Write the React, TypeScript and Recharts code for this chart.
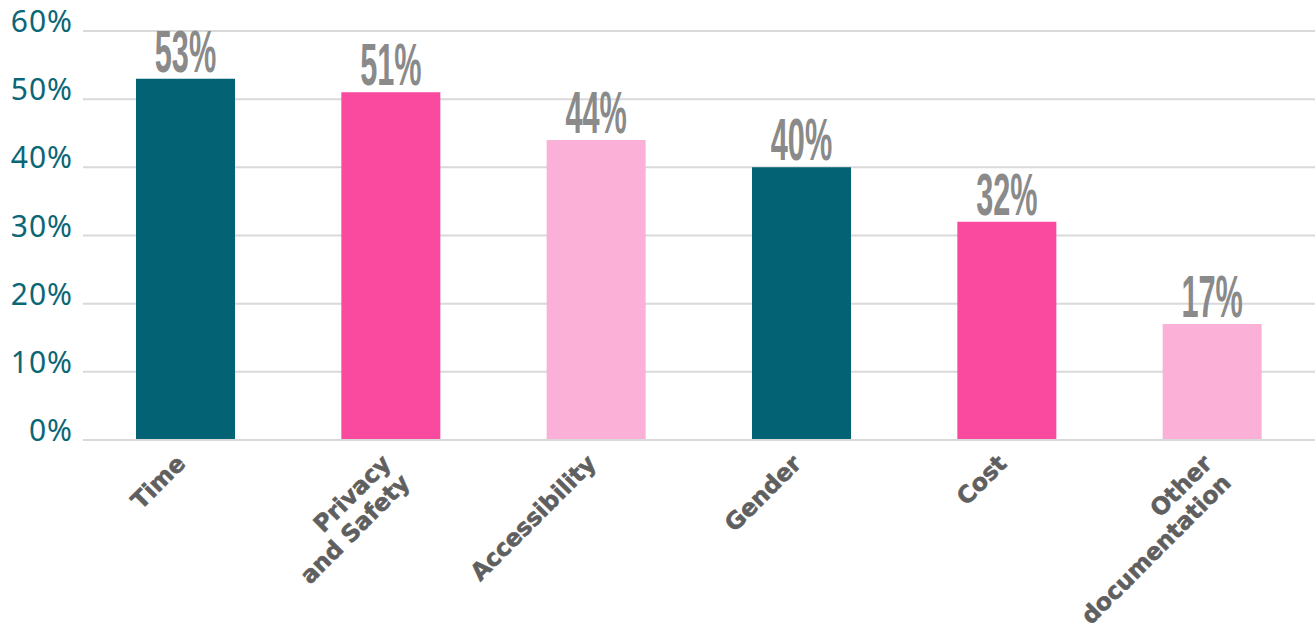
import { BarChart, Bar, XAxis, YAxis, CartesianGrid, Cell, LabelList } from "recharts";

const categories = ["Time", "Privacy\nand Safety", "Accessibility", "Gender", "Cost", "Other\ndocumentation"];
const shares = [53, 51, 44, 40, 32, 17];
const yTicks = [0, 10, 20, 30, 40, 50, 60];

const TEAL = "#036273";
const PINK = "#f94a9f";
const LIGHT_PINK = "#fbb1d7";
const barColors = [TEAL, PINK, LIGHT_PINK, TEAL, PINK, LIGHT_PINK];

const data = categories.map((name, i) => ({ name, value: shares[i] }));

function CategoryTick({ x, y, payload }: any) {
  const lines = String(payload.value).split("\n");
  return (
    <g transform={`translate(${x + 1},${y + 25})`}>
      <text
        transform="rotate(-45)"
        textAnchor="end"
        fill="#5f5f5f"
        fontFamily="'DejaVu Sans', sans-serif"
        fontWeight="bold"
        fontSize={23.5}
        stroke="#5f5f5f"
        strokeWidth={0.6}
      >
        {lines.map((line, i) => (
          <tspan key={i} x={0} dy={i === 0 ? 0 : 27}>
            {line}
          </tspan>
        ))}
      </text>
    </g>
  );
}

function ValueLabel({ x, y, width, value }: any) {
  const cx = Number(x) + Number(width) / 2;
  return (
    <text
      transform={`translate(${cx},${Number(y) - 7}) scale(0.52,1)`}
      textAnchor="middle"
      fill="#8a8a8a"
      fontFamily="'Liberation Sans Narrow', 'Liberation Sans', sans-serif"
      fontWeight="bold"
      fontSize={59}
    >
      {`${value}%`}
    </text>
  );
}

function PercentTick({ x, y, payload }: any) {
  return (
    <text
      x={x}
      y={y}
      dy={1}
      textAnchor="end"
      fill="#0b6677"
      fontSize={30}
      fontFamily="'Noto Sans', sans-serif"
      letterSpacing={1}
    >
      {`${payload.value}%`}
    </text>
  );
}

export default function App() {
  return (
    <div style={{ position: "absolute", left: 0, top: 0, background: "#fff" }}>
      <BarChart
        width={1315}
        height={630}
        data={data}
        margin={{ top: 31, right: 0, left: 0, bottom: 0 }}
      >
        <CartesianGrid vertical={false} stroke="#d9d9d9" strokeWidth={2} />
        <XAxis
          dataKey="name"
          interval={0}
          height={190}
          tickLine={false}
          tickSize={0}
          tickMargin={0}
          axisLine={{ stroke: "#d9d9d9", strokeWidth: 2 }}
          tick={<CategoryTick />}
        />
        <YAxis
          width={83}
          domain={[0, 60]}
          ticks={yTicks}
          tickLine={false}
          axisLine={false}
          tickSize={0}
          tickMargin={10}
          tick={<PercentTick />}
        />
        <Bar dataKey="value" barSize={99} isAnimationActive={false}>
          {data.map((_, i) => (
            <Cell key={i} fill={barColors[i]} />
          ))}
          <LabelList dataKey="value" content={<ValueLabel />} />
        </Bar>
      </BarChart>
    </div>
  );
}
